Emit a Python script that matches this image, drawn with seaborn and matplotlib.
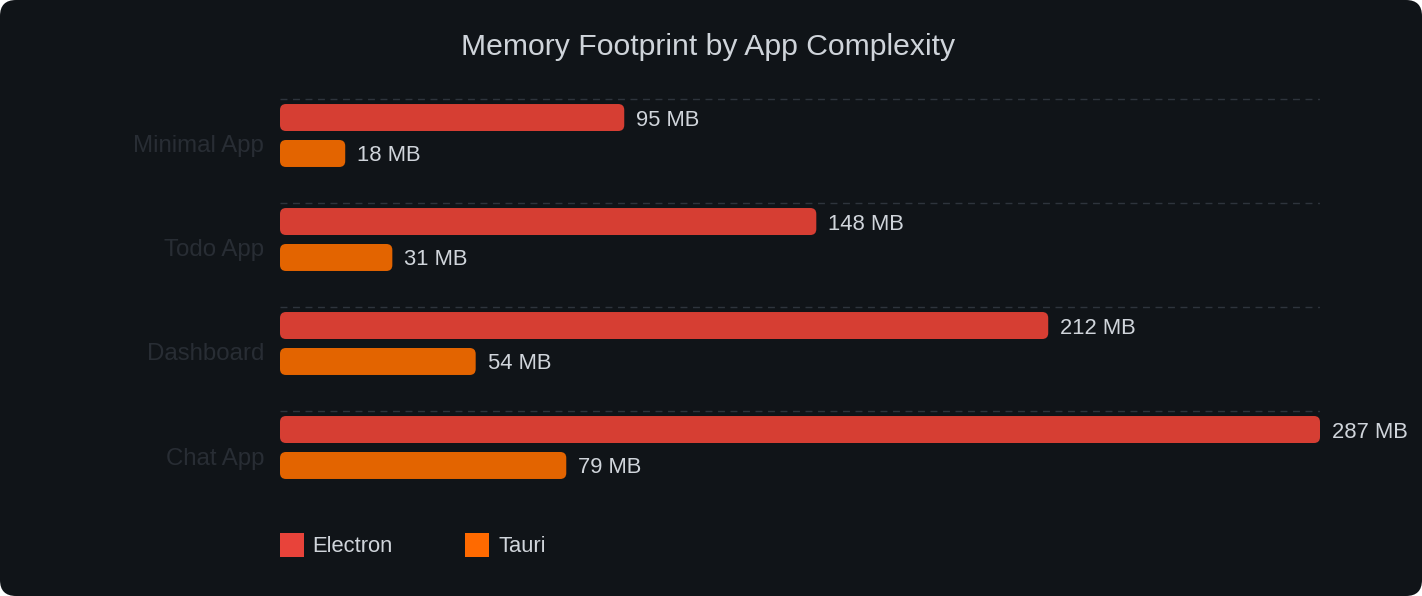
import matplotlib
matplotlib.use("Agg")
import matplotlib.pyplot as plt
import matplotlib.transforms as mtransforms
from matplotlib.patches import FancyBboxPatch, Patch
import pandas as pd
import seaborn as sns

# data
apps = ["Minimal App", "Todo App", "Dashboard", "Chat App"]
electron_mb = [95, 148, 212, 287]
tauri_mb = [18, 31, 54, 79]
frameworks = ["Electron", "Tauri"]

bar_colors = {"Electron": "#d63e33", "Tauri": "#e36400"}
legend_colors = {"Electron": "#e8433a", "Tauri": "#ff6a00"}

df = pd.DataFrame({
    "app": apps * 2,
    "mb": electron_mb + tauri_mb,
    "framework": ["Electron"] * len(apps) + ["Tauri"] * len(apps),
})

W, H, DPI = 14.22, 5.96, 100
BG = "#101418"

sns.set_theme(style="dark")
plt.rcParams["font.family"] = ["Liberation Sans", "DejaVu Sans"]

fig = plt.figure(figsize=(W, H), dpi=DPI, facecolor="white")
# rounded dark card
card = FancyBboxPatch((0, 0), W, H, boxstyle="round,pad=0,rounding_size=0.16",
                      transform=fig.dpi_scale_trans, fc=BG, ec="none", zorder=-10)
fig.add_artist(card)

px_w, px_h = W * DPI, H * DPI
ax_left, ax_right = 280, 1320
ax_top, ax_bottom = 85, 500
ax = fig.add_axes([ax_left / px_w, 1 - ax_bottom / px_h,
                   (ax_right - ax_left) / px_w, (ax_bottom - ax_top) / px_h])
ax.set_facecolor("none")

sns.barplot(data=df, y="app", x="mb", hue="framework", order=apps,
            hue_order=frameworks, palette=bar_colors, orient="h",
            width=0.692, gap=0.25, saturation=1, ax=ax, legend=False)

band = 104.0
ax.set_xlim(0, max(electron_mb))
ax.set_ylim(3 + (ax_bottom - 447.5) / band, -(135.5 - ax_top) / band)

# value labels
for cont in ax.containers:
    labs = ax.bar_label(cont, fmt="{:.0f} MB", padding=8.6, color="#d0d5db",
                        fontsize=15.8, clip_on=False)
    for t in labs:
        dx, dy = t.xyann
        t.xyann = (dx, dy - 1.8)

# rounded bars replacing the plain rectangles
x_px_per_unit = (ax_right - ax_left) / max(electron_mb)
r = 6 / x_px_per_unit
aspect = (6 / band) / r
for cont in ax.containers:
    for rect in cont:
        x, y = rect.get_xy()
        fb = FancyBboxPatch((x, y), rect.get_width(), rect.get_height(),
                            boxstyle=f"round,pad=0,rounding_size={r}",
                            mutation_aspect=aspect, fc=rect.get_facecolor(),
                            ec="none", zorder=3)
        ax.add_patch(fb)
        rect.set_visible(False)

# dashed separators
for i in range(len(apps)):
    ax.axhline(i - 36.5 / band, color="#2e343c", lw=1, ls=(0, (5, 4)), zorder=1)

ax.set_xlabel("")
ax.set_ylabel("")
ax.set_xticks([])
ax.tick_params(axis="y", length=0, pad=11.5, labelsize=17.3, labelcolor="#282d34")
offset = mtransforms.ScaledTranslation(0, -8.5 / DPI, fig.dpi_scale_trans)
for lab in ax.get_yticklabels():
    lab.set_transform(lab.get_transform() + offset)
for s in ax.spines.values():
    s.set_visible(False)
ax.grid(False)

fig.text(708 / px_w, 1 - 47 / px_h, "Memory Footprint by App Complexity",
         ha="center", va="center", fontsize=21.7, color="#cfd4da")

handles = [Patch(facecolor=legend_colors[f], edgecolor="none", label=f) for f in frameworks]
leg = fig.legend(handles=handles, loc="center left",
                 bbox_to_anchor=(280 / px_w, 1 - 545 / px_h), ncol=2,
                 frameon=False, fontsize=15.8, handlelength=1.09, handleheight=1.35,
                 handletextpad=0.4, columnspacing=3.3, borderpad=0, borderaxespad=0)
for t in leg.get_texts():
    t.set_color("#d0d5db")
for p in leg.get_patches():
    p.set_joinstyle("round")

fig.savefig("out.png", dpi=DPI, facecolor="white")
